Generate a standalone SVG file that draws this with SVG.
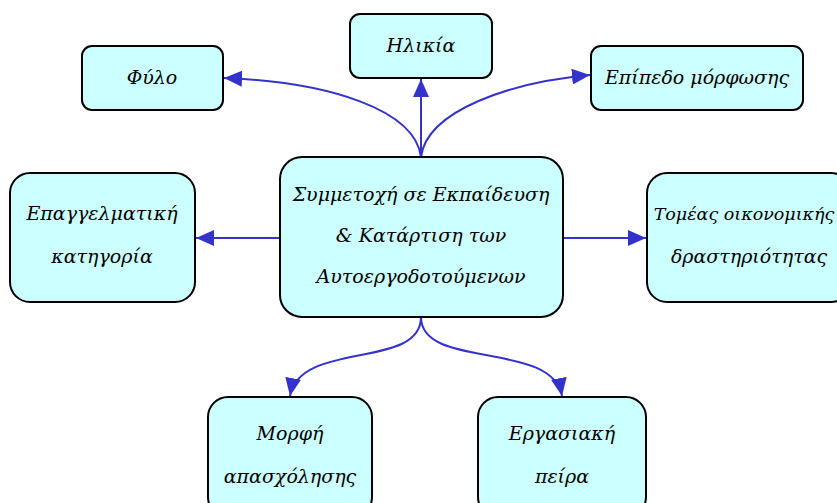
<svg xmlns="http://www.w3.org/2000/svg" width="837" height="503" viewBox="0 0 837 503">
<defs>
<style>
.box{fill:#ccffff;stroke:#000;stroke-width:2}
.t{font-family:"DejaVu Serif","Liberation Serif",serif;font-style:italic;font-size:19px;fill:#000;text-anchor:middle}
.c{fill:none;stroke:#3333cc;stroke-width:2}
</style>
<marker id="ah" markerWidth="18" markerHeight="16" refX="18" refY="8" orient="auto" markerUnits="userSpaceOnUse">
<path d="M0,0 L18,8 L0,16 Z" fill="#3333cc"/>
</marker>
</defs>
<rect width="837" height="503" fill="#fff"/>
<g id="connectors">
<path class="c" d="M421,157 L421,79" marker-end="url(#ah)"/>
<path class="c" d="M421,157 C415,110 330,82 224,78" marker-end="url(#ah)"/>
<path class="c" d="M421,157 C427,110 512,82 590,75" marker-end="url(#ah)"/>
<path class="c" d="M280,238 L196,238" marker-end="url(#ah)"/>
<path class="c" d="M563,238 L646,238" marker-end="url(#ah)"/>
<path class="c" d="M421,317 C421,370 300,340 290,396" marker-end="url(#ah)"/>
<path class="c" d="M421,317 C421,370 552,340 562,396" marker-end="url(#ah)"/>
</g>
<g id="center">
<rect class="box" x="280" y="157" width="283" height="160" rx="22"/>
<text class="t" x="421" y="201">Συμμετοχή σε Εκπαίδευση</text>
<text class="t" x="421" y="242">&amp; Κατάρτιση των</text>
<text class="t" x="421" y="283">Αυτοεργοδοτούμενων</text>
</g>
<g id="filo">
<rect class="box" x="82" y="46" width="141" height="64" rx="10"/>
<text class="t" x="152" y="84">Φύλο</text>
</g>
<g id="ilikia">
<rect class="box" x="350" y="14" width="142" height="64" rx="10"/>
<text class="t" x="421" y="52">Ηλικία</text>
</g>
<g id="epipedo">
<rect class="box" x="591" y="46" width="212" height="64" rx="10"/>
<text class="t" x="697" y="84">Επίπεδο μόρφωσης</text>
</g>
<g id="epaggelmatiki">
<rect class="box" x="10" y="173" width="185" height="129" rx="20"/>
<text class="t" x="102" y="220">Επαγγελματική</text>
<text class="t" x="102" y="263">κατηγορία</text>
</g>
<g id="tomeas">
<rect class="box" x="647" y="173" width="204" height="129" rx="20"/>
<text class="t" x="744" y="220" style="font-size:17.5px">Τομέας οικονομικής</text>
<text class="t" x="749" y="263">δραστηριότητας</text>
</g>
<g id="morfi">
<rect class="box" x="208" y="397" width="164" height="120" rx="20"/>
<text class="t" x="290" y="440">Μορφή</text>
<text class="t" x="290" y="483">απασχόλησης</text>
</g>
<g id="ergasiaki">
<rect class="box" x="478" y="397" width="168" height="120" rx="20"/>
<text class="t" x="562" y="440">Εργασιακή</text>
<text class="t" x="562" y="483">πείρα</text>
</g>
</svg>
